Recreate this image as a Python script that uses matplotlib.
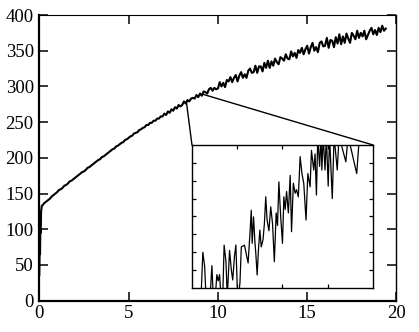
import matplotlib
matplotlib.use("Agg")
import matplotlib.pyplot as plt
from matplotlib.patches import ConnectionPatch

# ---------------- data ----------------
start_x = [0.0, 0.02, 0.04, 0.06, 0.08, 0.10, 0.14, 0.20, 0.25]
start_y = [36, 75, 65, 100, 95, 125, 133, 134, 136]

# main series sampled every 0.1 from x = 0.3 to 19.4
main_y = [
    137, 139, 141, 143, 146, 148, 150,
    152, 155, 156, 158, 161, 162, 164, 167, 168, 170,
    172, 174, 176, 178, 180, 181, 183, 186, 187, 189,
    191, 193, 195, 197, 198, 201, 202, 204, 206, 208,
    210, 212, 213, 216, 217, 219, 221, 222, 225, 226,
    228, 230, 231, 234, 235, 236, 239, 240, 242, 243,
    246, 246, 249, 249, 252, 252, 255, 255, 258, 258,
    262, 260, 265, 263, 268, 266, 271, 269, 274, 272,
    274, 279, 276, 281, 279, 283, 284, 283, 288, 285,
    290, 287, 293, 292, 290, 296, 298, 294, 298, 296,
    297, 306, 300, 305, 299, 309, 307, 313, 306, 312,
    316, 307, 315, 320, 312, 317, 312, 322, 325, 319,
    320, 329, 319, 328, 328, 321, 333, 326, 336, 326,
    335, 329, 339, 334, 331, 341, 339, 336, 345, 339,
    338, 349, 342, 347, 340, 351, 347, 354, 345, 352,
    357, 346, 355, 361, 350, 355, 348, 361, 363, 356,
    357, 368, 354, 365, 364, 355, 369, 360, 373, 359,
    370, 361, 374, 367, 361, 375, 371, 366, 378, 368,
    375, 370, 378, 366, 372, 378, 382, 373, 379, 372,
    382, 376, 385, 378, 381,
]
main_x = [round(0.3 + 0.1 * i, 2) for i in range(len(main_y))]

x_ticks = [0, 5, 10, 15, 20]
y_ticks = [0, 50, 100, 150, 200, 250, 300, 350, 400]

# zoomed detail shown in the inset (inset units)
inset_x = [0.00, 0.20, 0.24, 0.28, 0.31, 0.40, 0.44, 0.47, 0.52, 0.55, 0.58, 0.61,
           0.64, 0.68, 0.71, 0.75, 0.78, 0.83, 0.87, 0.90, 0.94, 0.97, 1.00, 1.03,
           1.06, 1.09, 1.13, 1.16, 1.20, 1.24, 1.28, 1.31, 1.33, 1.36, 1.39, 1.41,
           1.44, 1.47, 1.50, 1.53, 1.57, 1.60, 1.63, 1.66, 1.70, 1.74, 1.78, 1.82,
           1.86, 1.89, 1.92, 1.96, 2.00, 2.03, 2.06, 2.09, 2.13, 2.17, 2.20, 2.24,
           2.28, 2.31, 2.35, 2.39, 2.43, 2.47, 2.52, 2.56, 2.61, 2.64, 2.69, 2.72,
           2.75, 2.78, 2.82, 2.85, 2.87, 2.90, 2.94, 2.97, 3.01, 3.04, 3.10, 3.14,
           3.21, 3.25, 3.40, 3.45, 3.64, 3.70]
inset_y = [-0.5, -0.5, 2.0, 1.2, -0.5, -0.5, 1.25, -0.5, -0.3, 0.75, 0.4, 0.75,
           -0.5, -0.5, 2.4, 1.5, -0.5, 2.1, 1.0, 0.45, 1.8, 2.4, 0.1, -0.5,
           0.3, 2.3, 2.35, 2.4, 1.9, 1.4, 3.0, 4.35, 2.5, 3.98, 2.6, 1.95,
           0.73, 2.2, 3.24, 2.3, 2.7, 3.6, 5.1, 3.8, 3.2, 4.54, 3.6, 1.47,
           4.2, 3.5, 5.94, 4.0, 2.5, 5.1, 4.4, 5.4, 4.2, 6.3, 3.15, 5.86,
           5.3, 5.5, 5.1, 7.35, 6.4, 5.86, 3.8, 6.4, 5.66, 7.7, 6.6, 7.5,
           5.2, 8.5, 6.8, 8.5, 6.6, 8.5, 6.6, 8.5, 5.7, 8.5, 5.0, 8.5,
           6.6, 8.5, 7.06, 8.5, 6.4, 8.5]

conn_a = (8.24, 277.5)   # curve point linked to inset top-left
conn_b = (9.20, 288.7)   # curve point linked to inset top-right

# ---------------- plot ----------------
plt.rcParams['font.family'] = ['Liberation Serif', 'DejaVu Serif']

fig = plt.figure(figsize=(4.19, 3.32), dpi=100)
ax = fig.add_axes([0.0938, 0.0943, 0.8525, 0.8605])

ax.plot(start_x + main_x, start_y + main_y, color='black', lw=1.5)
ax.set_xlim(0, 20)
ax.set_ylim(0, 400)
ax.set_xticks(x_ticks)
ax.set_yticks(y_ticks)
ax.tick_params(direction='in', length=6.5, width=1.1, top=True, right=True,
               labelsize=13.5, pad=4)
ax.tick_params(axis='x', pad=3)
ax.spines['left'].set_linewidth(1.6)
ax.spines['bottom'].set_linewidth(1.6)
ax.spines['top'].set_linewidth(0.8)
ax.spines['right'].set_linewidth(1.0)

ins = fig.add_axes([0.4582, 0.1325, 0.432, 0.4308])
ins.plot(inset_x, inset_y, color='black', lw=0.9)
ins.set_xlim(0, 4)
ins.set_ylim(0, 8)
ins.set_xticks([1, 2, 3])
ins.set_yticks([1, 2, 3, 4, 5, 6, 7])
ins.tick_params(direction='in', length=3, width=0.9, top=True, right=True,
                labelbottom=False, labelleft=False)
for s in ins.spines.values():
    s.set_linewidth(1.0)

for pa, pb in [(conn_a, (0, 1)), (conn_b, (1, 1))]:
    cp = ConnectionPatch(xyA=pa, coordsA=ax.transData, xyB=pb,
                         coordsB=ins.transAxes, color='black', lw=1.0)
    fig.add_artist(cp)

fig.savefig('out.png', dpi=100)
